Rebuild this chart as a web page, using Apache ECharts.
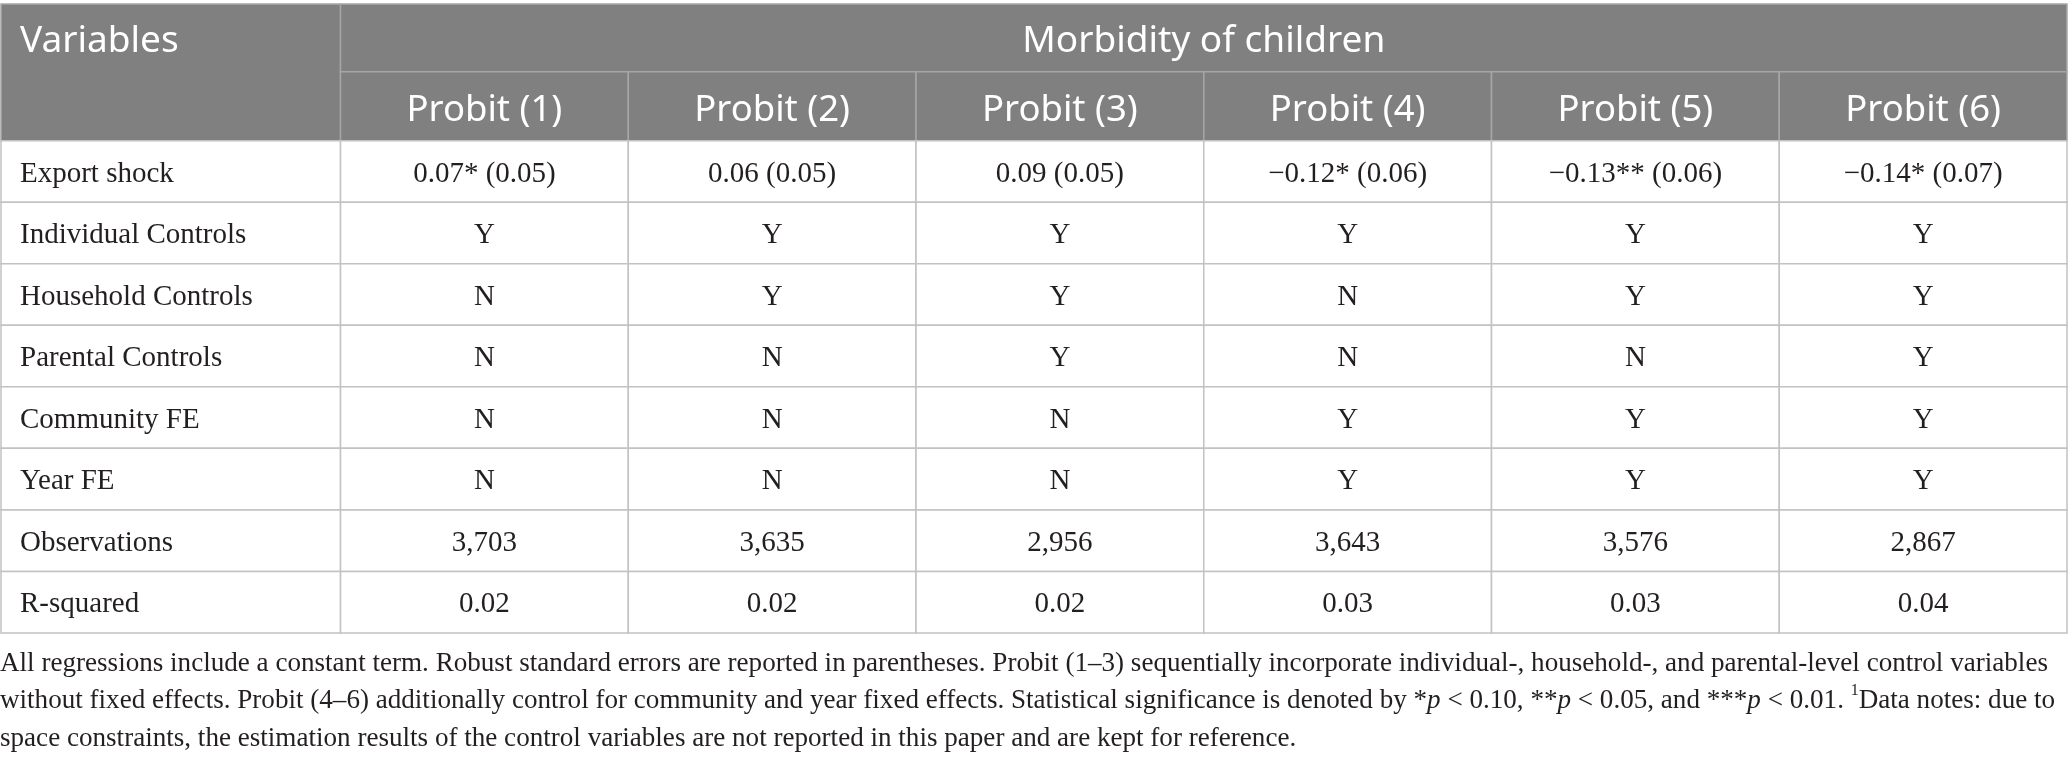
<!DOCTYPE html>
<html>
<head>
<meta charset="utf-8">
<script src="https://cdn.jsdelivr.net/npm/echarts@6/dist/echarts.min.js"></script>
<style>
    html, body { margin: 0; padding: 0; background: #fff; }
    #main { width: 2068px; height: 760px; }
</style>
</head>
<body>
<div id="main"></div>
<script>
// table content
const headTitle = 'Morbidity of children';
const firstHead = 'Variables';
const modelNames = ['Probit (1)', 'Probit (2)', 'Probit (3)', 'Probit (4)', 'Probit (5)', 'Probit (6)'];
const rowLabels = ['Export shock', 'Individual Controls', 'Household Controls', 'Parental Controls',
    'Community FE', 'Year FE', 'Observations', 'R-squared'];
const coef = [0.07, 0.06, 0.09, -0.12, -0.13, -0.14];
const stdErr = [0.05, 0.05, 0.05, 0.06, 0.06, 0.07];
const stars = ['*', '', '', '*', '**', '*'];
const individualCtrl = ['Y', 'Y', 'Y', 'Y', 'Y', 'Y'];
const householdCtrl = ['N', 'Y', 'Y', 'N', 'Y', 'Y'];
const parentalCtrl = ['N', 'N', 'Y', 'N', 'N', 'Y'];
const communityFE = ['N', 'N', 'N', 'Y', 'Y', 'Y'];
const yearFE = ['N', 'N', 'N', 'Y', 'Y', 'Y'];
const observations = [3703, 3635, 2956, 3643, 3576, 2867];
const rSquared = [0.02, 0.02, 0.02, 0.03, 0.03, 0.04];
const noteLines = [
    'All regressions include a constant term. Robust standard errors are reported in parentheses. Probit (1–3) sequentially incorporate individual-, household-, and parental-level control variables',
    'without fixed effects. Probit (4–6) additionally control for community and year fixed effects. Statistical significance is denoted by *{it|p} < 0.10, **{it|p} < 0.05, and ***{it|p} < 0.01. {sup|1}Data notes: due to',
    'space constraints, the estimation results of the control variables are not reported in this paper and are kept for reference.'
];

// layout weights (first column wider, header rows a bit taller)
const colW = [1.18, 1, 1, 1, 1, 1, 1];
const rowH = [1.1, 1.12, 1, 1, 1, 1, 1, 1, 1, 1];
const edge = (arr, i) => arr.slice(0, i).reduce((a, b) => a + b, 0);

let fmt = (v) => (v < 0 ? '−' : '') + Math.abs(v).toFixed(2);
let bodyRows = [
    coef.map((c, i) => fmt(c) + stars[i] + ' (' + stdErr[i].toFixed(2) + ')'),
    individualCtrl, householdCtrl, parentalCtrl, communityFE, yearFE,
    observations.map(v => v.toLocaleString('en-US')),
    rSquared.map(v => v.toFixed(2))
];

// cells: [x0, y0, x1, y1, textY], with text and kind kept alongside
let cells = [], cellText = [], cellKind = [];
let addCell = (c0, r0, c1, r1, text, kind, textRow) => {
    let tr = textRow === undefined ? r0 : textRow;
    cells.push([edge(colW, c0), edge(rowH, r0), edge(colW, c1), edge(rowH, r1),
        edge(rowH, tr) + rowH[tr] / 2]);
    cellText.push(text);
    cellKind.push(kind);
};
addCell(0, 0, 1, 2, firstHead, 'headLeft', 0);
addCell(1, 0, 7, 1, headTitle, 'head');
modelNames.forEach((m, i) => addCell(i + 1, 1, i + 2, 2, m, 'head'));
rowLabels.forEach((lab, r) => {
    addCell(0, r + 2, 1, r + 3, lab, 'label');
    bodyRows[r].forEach((v, c) => addCell(c + 1, r + 2, c + 2, r + 3, v, 'body'));
});

let myChart = echarts.init(document.getElementById('main'), null, { renderer: 'canvas' });
myChart.setOption({
    animation: false,
    title: {
        text: noteLines.join('\n'),
        left: 0,
        top: 645,
        padding: 0,
        textStyle: {
            fontFamily: 'Liberation Serif',
            fontSize: 27.1,
            fontWeight: 'normal',
            color: '#231f20',
            lineHeight: 37.5,
            rich: {
                it: { fontFamily: 'Liberation Serif', fontSize: 27.1, fontStyle: 'italic', color: '#231f20', lineHeight: 37.5 },
                sup: { fontFamily: 'Liberation Serif', fontSize: 16, color: '#231f20', lineHeight: 26, verticalAlign: 'top' }
            }
        }
    },
    grid: { left: 1, right: 1, top: 4, height: 629 },
    xAxis: { type: 'value', min: 0, max: edge(colW, colW.length), show: false },
    yAxis: { type: 'value', min: 0, max: edge(rowH, rowH.length), inverse: true, show: false },
    series: [{
        type: 'custom',
        silent: true,
        data: cells,
        renderItem: function (params, api) {
            let i = params.dataIndex, kind = cellKind[i];
            let p0 = api.coord([api.value(0), api.value(1)]);
            let p1 = api.coord([api.value(2), api.value(3)]);
            let ty = api.coord([0, api.value(4)])[1];
            let isHead = kind === 'head' || kind === 'headLeft';
            let leftAlign = kind === 'headLeft' || kind === 'label';
            return {
                type: 'group',
                children: [{
                    type: 'rect',
                    shape: { x: p0[0], y: p0[1], width: p1[0] - p0[0], height: p1[1] - p0[1] },
                    style: {
                        fill: isHead ? '#7f807f' : '#ffffff',
                        stroke: isHead ? '#a6a6a6' : '#c2c2c2',
                        lineWidth: 1.5
                    }
                }, {
                    type: 'text',
                    x: leftAlign ? p0[0] + 19 : (p0[0] + p1[0]) / 2,
                    y: ty + (isHead ? 4 : 2.5),
                    style: {
                        text: cellText[i],
                        fill: isHead ? '#ffffff' : '#231f20',
                        fontFamily: isHead ? 'Noto Sans' : 'Liberation Serif',
                        fontSize: isHead ? (kind === 'head' && cellText[i] !== headTitle ? 36.5 : 37) : 29,
                        align: leftAlign ? 'left' : 'center',
                        verticalAlign: 'middle'
                    }
                }]
            };
        }
    }]
});
</script>
</body>
</html>
